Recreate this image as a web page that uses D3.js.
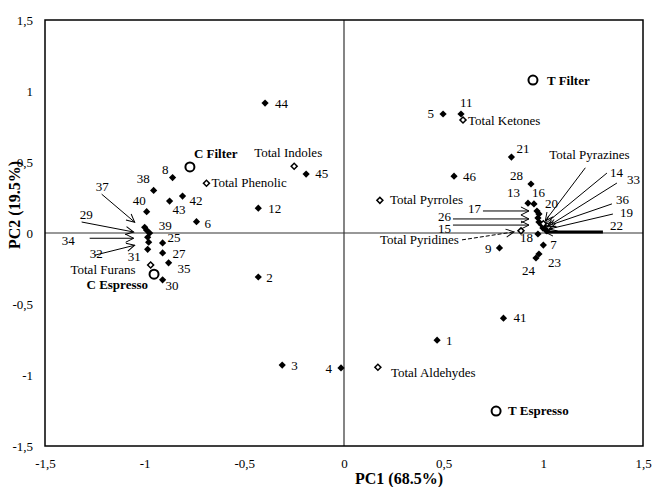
<!DOCTYPE html>
<html>
<head>
<meta charset="utf-8">
<title>PCA biplot</title>
<script src="https://d3js.org/d3.v7.min.js"></script>
<style>
  body { margin: 0; background: #fff; }
  text { font-family: 'Liberation Serif', 'Times New Roman', serif; fill: #000; }
</style>
</head>
<body>
<div id="chart"></div>
<script>
// variables (numbered compounds)
var varIds = [1, 2, 3, 4, 5, 6, 7, 8, 9, 11, 12, 13, 14, 15, 16, 17, 18, 19, 20, 21, 22, 23,
  24, 25, 26, 27, 28, 29, 30, 31, 32, 33, 34, 35, 36, 37, 38, 39, 40, 41, 42, 43, 44, 45, 46];
var varPC1 = [0.467, -0.43, -0.31, -0.015, 0.497, -0.74, 1.0, -0.86, 0.78, 0.587, -0.43, 0.923,
  0.993, 0.978, 0.953, 0.978, 0.973, 1.008, 0.968, 0.84, 1.018, 0.978, 0.963, -0.91, 0.973,
  -0.91, 0.938, -0.975, -0.91, -0.985, -0.98, 0.998, -0.985, -0.88, 1.003, -0.99, -0.955,
  -1.0, -0.99, 0.80, -0.81, -0.875, -0.396, -0.19, 0.552];
var varPC2 = [-0.755, -0.31, -0.93, -0.95, 0.838, 0.08, -0.085, 0.39, -0.105, 0.838, 0.175, 0.21,
  0.056, 0.077, 0.205, 0.134, -0.007, 0.028, 0.155, 0.535, 0.014, -0.148, -0.176, -0.07, 0.106,
  -0.14, 0.345, 0.0, -0.33, -0.115, -0.065, 0.035, -0.03, -0.21, 0.05, 0.02, 0.30,
  0.04, 0.15, -0.60, 0.26, 0.225, 0.915, 0.415, 0.40];

// chemical class totals
var totalNames = ['Total Indoles', 'Total Phenolic', 'Total Furans', 'Total Aldehydes',
  'Total Pyrroles', 'Total Ketones', 'Total Pyridines', 'Total Pyrazines'];
var totalPC1 = [-0.25, -0.69, -0.97, 0.17, 0.18, 0.597, 0.888, 1.0];
var totalPC2 = [0.47, 0.35, -0.225, -0.945, 0.23, 0.796, 0.015, 0.065];

// coffee samples
var sampleNames = ['C Filter', 'T Filter', 'C Espresso', 'T Espresso'];
var samplePC1 = [-0.773, 0.948, -0.953, 0.763];
var samplePC2 = [0.465, 1.077, -0.29, -1.254];

var tickValues = [-1.5, -1, -0.5, 0, 0.5, 1, 1.5];
var xTitle = 'PC1 (68.5%)';
var yTitle = 'PC2 (19.5%)';

// label placement (px offsets from the mark)
var labelPos = {
  '1': [9, 5], '2': [8, 5], '3': [9, 5], '4': [-9, 5, 'end'], '5': [-9, 4, 'end'], '6': [8, 6],
  '7': [7, 4], '8': [-4, -4, 'end'], '9': [-8, 5, 'end'], '11': [-1, -7], '12': [10, 5],
  '13': [-8, -6, 'end'], '16': [-2, -7], '18': [-5, 8, 'end'], '20': [8, -3], '21': [5, -4],
  '23': [9, 13], '24': [-1, 17, 'end'], '25': [5, -1], '27': [10, 5], '28': [-8, -4, 'end'],
  '30': [3, 10], '31': [-7, 12, 'end'], '35': [9, 10], '38': [-4, -7, 'end'], '39': [14, 3],
  '40': [-1, -7, 'end'], '41': [10, 4], '42': [7, 9], '43': [3, 13], '44': [10, 5], '45': [9, 4],
  '46': [9, 5],
  'Total Indoles': [-40, -9], 'Total Phenolic': [5, 4], 'Total Furans': [-15, 9, 'end'],
  'Total Aldehydes': [13, 10], 'Total Pyrroles': [10, 4], 'Total Ketones': [5, 5],
  'C Filter': [4, -9], 'T Filter': [14, 5], 'C Espresso': [-6, 15, 'end'], 'T Espresso': [12, 4]
};
// callouts: text offset, then leader line x1,y1,x2,y2 relative to the mark
var callouts = {
  '14': { t: [68, -48], l: [65, -52, 3, -1] },
  '15': { t: [-101, 11], l: [-86, 3, -10, 3] },
  '17': { t: [-71, -1], l: [-56, -3, -10, -3] },
  '19': { t: [75, -12], l: [68, -15, 4, 0] },
  '22': { t: [63, -1], l: [56, 1, -2, 1], w: 3 },
  '26': { t: [-100, 3], l: [-85, 1, -9, 1] },
  '29': { t: [-70, -14], l: [-68, -11, -16, -1] },
  '32': { t: [-59, 16], l: [-54, 13, -14, 3] },
  '33': { t: [84, -44], l: [74, -45, 4, -1] },
  '34': { t: [-86, 8], l: [-58, 1, -14, 1] },
  '36': { t: [72, -22], l: [68, -22, 4, 0] },
  '37': { t: [-51, -39], l: [-45, -36, -12, -8] },
  'Total Pyridines': { t: [-141, 13], l: [-59, 9, -7, 1], dash: '4,2' },
  'Total Pyrazines': { t: [6, -65], l: [42, -56, 2, -3] }
};

var width = 653, height = 487;
var margin = { top: 20, right: 10, bottom: 41, left: 45 };

var svg = d3.select('#chart').append('svg')
  .attr('width', width)
  .attr('height', height);

var x = d3.scaleLinear().domain([-1.5, 1.5]).range([margin.left, width - margin.right]);
var y = d3.scaleLinear().domain([-1.5, 1.5]).range([height - margin.bottom, margin.top]);

var locale = d3.formatLocale({ decimal: ',', thousands: '.', grouping: [3], currency: ['', ''], minus: '-' });
var fmt = locale.format('~g');

// arrow head
svg.append('defs').append('marker')
  .attr('id', 'arrow')
  .attr('markerUnits', 'userSpaceOnUse')
  .attr('viewBox', '-9 -5 10 10')
  .attr('refX', 0).attr('refY', 0)
  .attr('markerWidth', 10).attr('markerHeight', 10)
  .attr('orient', 'auto')
  .append('path')
  .attr('d', 'M-8,-4L0,0L-8,4')
  .attr('fill', 'none')
  .attr('stroke', '#000')
  .attr('stroke-width', 1);

// axes (labels only)
var xAxis = svg.append('g')
  .attr('transform', 'translate(0,' + (height - margin.bottom) + ')')
  .call(d3.axisBottom(x).tickValues(tickValues).tickFormat(fmt).tickSize(0).tickPadding(13));
var yAxis = svg.append('g')
  .attr('transform', 'translate(' + margin.left + ',0)')
  .call(d3.axisLeft(y).tickValues(tickValues).tickFormat(fmt).tickSize(0).tickPadding(12));
[xAxis, yAxis].forEach(function(g) {
  g.select('.domain').remove();
  g.selectAll('text').style('font-family', "'Liberation Serif', serif").style('font-size', '13px');
});

// zero lines
svg.append('line')
  .attr('x1', x(0)).attr('x2', x(0)).attr('y1', y(1.5)).attr('y2', y(-1.5))
  .attr('stroke', '#333').attr('stroke-width', 1.2);
svg.append('line')
  .attr('x1', x(-1.5)).attr('x2', x(1.5)).attr('y1', y(0)).attr('y2', y(0))
  .attr('stroke', '#333').attr('stroke-width', 1.2);

// frame
svg.append('rect')
  .attr('x', x(-1.5)).attr('y', y(1.5))
  .attr('width', x(1.5) - x(-1.5)).attr('height', y(-1.5) - y(1.5))
  .attr('fill', 'none').attr('stroke', '#000').attr('stroke-width', 1.5);

// axis titles
svg.append('text')
  .attr('x', 399).attr('y', 484)
  .attr('text-anchor', 'middle')
  .style('font-size', '16px').style('font-weight', 'bold')
  .text(xTitle);
svg.append('text')
  .attr('transform', 'translate(20,205) rotate(-90)')
  .attr('text-anchor', 'middle')
  .style('font-size', '16px').style('font-weight', 'bold')
  .text(yTitle);

var points = [];
varIds.forEach(function(id, i) { points.push({ name: String(id), px: varPC1[i], py: varPC2[i], kind: 'var' }); });
totalNames.forEach(function(n, i) { points.push({ name: n, px: totalPC1[i], py: totalPC2[i], kind: 'total' }); });
sampleNames.forEach(function(n, i) { points.push({ name: n, px: samplePC1[i], py: samplePC2[i], kind: 'sample' }); });

// leader lines
var withCallout = points.filter(function(d) { return callouts[d.name]; });
svg.append('g').selectAll('line')
  .data(withCallout)
  .enter().append('line')
  .attr('x1', function(d) { return x(d.px) + callouts[d.name].l[0]; })
  .attr('y1', function(d) { return y(d.py) + callouts[d.name].l[1]; })
  .attr('x2', function(d) { return x(d.px) + callouts[d.name].l[2]; })
  .attr('y2', function(d) { return y(d.py) + callouts[d.name].l[3]; })
  .attr('stroke', '#000')
  .attr('stroke-width', function(d) { return callouts[d.name].w || 1; })
  .attr('stroke-dasharray', function(d) { return callouts[d.name].dash || null; })
  .attr('marker-end', 'url(#arrow)');

// marks
var diamond = d3.symbol().type(d3.symbolSquare).size(26);
svg.append('g').selectAll('path')
  .data(points.filter(function(d) { return d.kind === 'var'; }))
  .enter().append('path')
  .attr('d', diamond)
  .attr('transform', function(d) { return 'translate(' + x(d.px) + ',' + y(d.py) + ') rotate(45)'; })
  .attr('fill', '#000');

var openDiamond = d3.symbol().type(d3.symbolSquare).size(18);
svg.append('g').selectAll('path')
  .data(points.filter(function(d) { return d.kind === 'total'; }))
  .enter().append('path')
  .attr('d', openDiamond)
  .attr('transform', function(d) { return 'translate(' + x(d.px) + ',' + y(d.py) + ') rotate(45)'; })
  .attr('fill', '#fff')
  .attr('stroke', '#000')
  .attr('stroke-width', 1.5);

svg.append('g').selectAll('circle')
  .data(points.filter(function(d) { return d.kind === 'sample'; }))
  .enter().append('circle')
  .attr('cx', function(d) { return x(d.px); })
  .attr('cy', function(d) { return y(d.py); })
  .attr('r', 4.5)
  .attr('fill', '#fff')
  .attr('stroke', '#000')
  .attr('stroke-width', 2);

// labels
svg.append('g').selectAll('text')
  .data(points)
  .enter().append('text')
  .each(function(d) {
    var p = callouts[d.name] ? callouts[d.name].t : (labelPos[d.name] || [6, 4]);
    d3.select(this)
      .attr('x', x(d.px) + p[0])
      .attr('y', y(d.py) + p[1])
      .attr('text-anchor', p[2] || 'start');
  })
  .style('font-size', '13px')
  .style('font-weight', function(d) { return d.kind === 'sample' ? 'bold' : 'normal'; })
  .text(function(d) { return d.name; });
</script>
</body>
</html>
